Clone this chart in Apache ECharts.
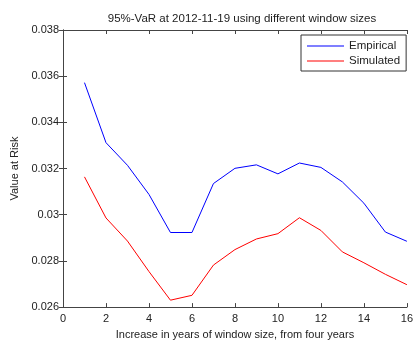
<!DOCTYPE html>
<html>
<head>
<meta charset="utf-8">
<script src="https://cdn.jsdelivr.net/npm/echarts@6/dist/echarts.min.js"></script>
<style>
  html, body { margin: 0; padding: 0; background: #fff; }
  #chart { width: 416px; height: 345px; }
</style>
</head>
<body>
<div id="chart"></div>
<script>
// Increase in window size (years beyond the base four years)
const windowYears = [1, 2, 3, 4, 5, 6, 7, 8, 9, 10, 11, 12, 13, 14, 15, 16];
// 95% Value at Risk estimates on 2012-11-19
const empiricalVaR = [0.03572, 0.03312, 0.03214, 0.03088, 0.02923, 0.02923, 0.03135, 0.03201,
                      0.03216, 0.03177, 0.03224, 0.03205, 0.03142, 0.03050, 0.02925, 0.02885];
const simulatedVaR = [0.03164, 0.02986, 0.02886, 0.02754, 0.02630, 0.02651, 0.02782, 0.02849,
                      0.02895, 0.02918, 0.02987, 0.02932, 0.02839, 0.02792, 0.02742, 0.02697];
const seriesNames = ['Empirical', 'Simulated'];

const font = 'Liberation Sans, Arial, Helvetica, sans-serif';
const axisColor = '#444';
const textColor = '#222';

function pairs(xs, ys) { return xs.map((x, i) => [x, ys[i]]); }

const tickStyle = { show: true, inside: true, length: 4, lineStyle: { color: axisColor } };

const chart = echarts.init(document.getElementById('chart'), null, { renderer: 'canvas' });
chart.setOption({
  backgroundColor: '#fff',
  animation: false,
  title: {
    text: '95%-VaR at 2012-11-19 using different window sizes',
    left: 237, top: 8, textAlign: 'center',
    textStyle: { fontFamily: font, fontSize: 11.5, fontWeight: 'normal', color: textColor }
  },
  grid: { left: 63, right: 5, top: 30, bottom: 34, containLabel: false },
  legend: {
    data: seriesNames,
    orient: 'vertical',
    left: 301, top: 35,
    padding: [5, 6, 4, 6],
    itemGap: 3,
    itemWidth: 37, itemHeight: 1,
    icon: 'rect',
    backgroundColor: '#fff',
    borderColor: '#333', borderWidth: 1,
    textStyle: { fontFamily: font, fontSize: 11.5, color: textColor, padding: [0, 0, 0, 0] }
  },
  xAxis: [{
    type: 'value', min: 0, max: 16, interval: 2,
    name: 'Increase in years of window size, from four years',
    nameLocation: 'middle', nameGap: 20,
    nameTextStyle: { fontFamily: font, fontSize: 11, color: textColor },
    axisLine: { show: true, lineStyle: { color: axisColor } },
    axisTick: tickStyle,
    axisLabel: {
      fontFamily: font, fontSize: 11, color: textColor, margin: 6,
      alignMinLabel: 'center', alignMaxLabel: 'center'
    },
    splitLine: { show: false }
  }, {
    type: 'value', min: 0, max: 16, interval: 2, position: 'top',
    axisLine: { show: true, lineStyle: { color: axisColor } },
    axisTick: tickStyle, axisLabel: { show: false }, splitLine: { show: false }
  }],
  yAxis: [{
    type: 'value', min: 0.026, max: 0.038, interval: 0.002,
    name: 'Value at Risk',
    nameLocation: 'middle', nameGap: 40,
    nameTextStyle: { fontFamily: font, fontSize: 11, color: textColor },
    axisLine: { show: true, lineStyle: { color: axisColor } },
    axisTick: tickStyle,
    axisLabel: { fontFamily: font, fontSize: 11, color: textColor, margin: 4 },
    splitLine: { show: false }
  }, {
    type: 'value', min: 0.026, max: 0.038, interval: 0.002, position: 'right',
    axisLine: { show: true, lineStyle: { color: axisColor } },
    axisTick: tickStyle, axisLabel: { show: false }, splitLine: { show: false }
  }],
  series: [{
    name: seriesNames[0], type: 'line',
    data: pairs(windowYears, empiricalVaR),
    symbol: 'none', color: '#0000ff',
    lineStyle: { width: 1, color: '#0000ff' }
  }, {
    name: seriesNames[1], type: 'line',
    data: pairs(windowYears, simulatedVaR),
    symbol: 'none', color: '#ff0000',
    lineStyle: { width: 1, color: '#ff0000' }
  }]
});
</script>
</body>
</html>
